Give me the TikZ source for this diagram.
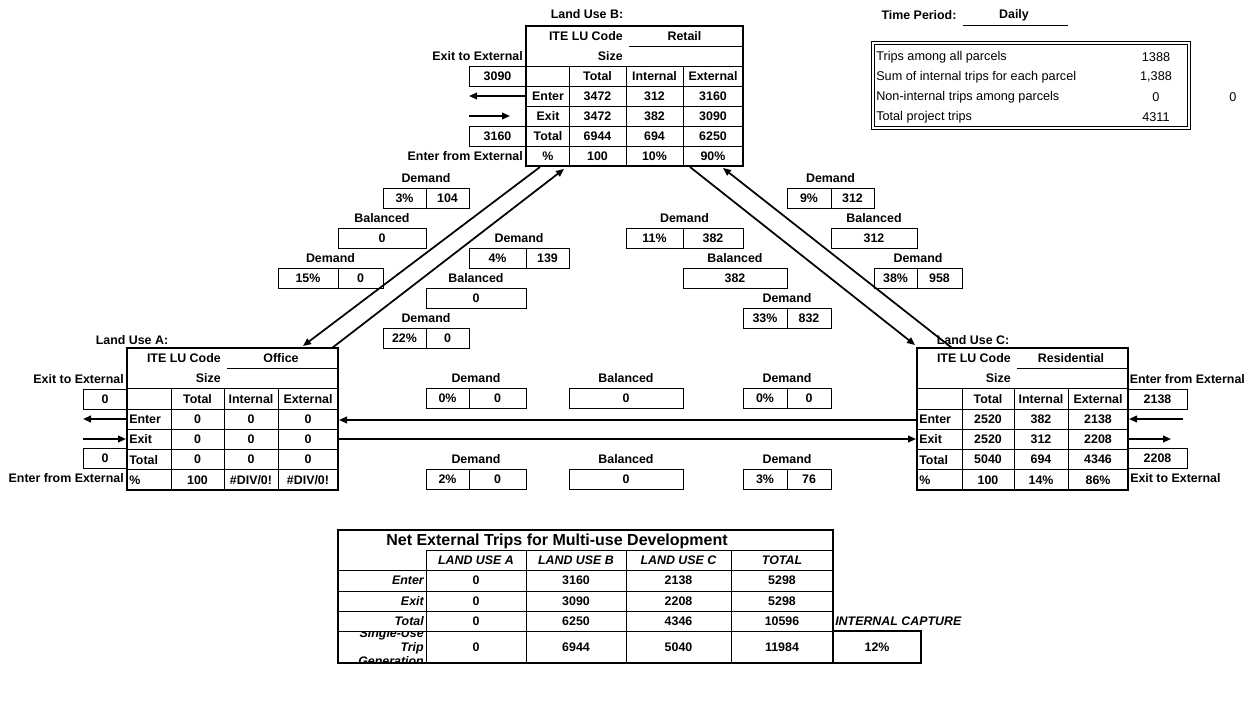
\documentclass[tikz,border=0pt]{standalone}
\usepackage{fontspec}
\setmainfont{Liberation Sans}
\usetikzlibrary{arrows.meta,positioning}

\tikzset{
  txt/.style={inner sep=0pt, font=\fontsize{9.3}{11}\selectfont\bfseries},
  note/.style={inner sep=0pt, font=\fontsize{9.5}{11}\selectfont},
  ital/.style={inner sep=0pt, font=\fontsize{9.3}{10.5}\selectfont\bfseries\itshape},
  rule/.style={line width=0.6pt},
  thickbox/.style={line width=1.5pt},
  box/.style={txt, draw, line width=0.6pt, minimum height=15pt},
  flow/.style={line width=1.3pt, -{Triangle[length=6pt,width=5pt]}},
}

\newcommand{\landuse}[5]{%
  \foreach \xa/\xb/\xc/\xd/\xe/\ya/\h in {#2} {
    \coordinate (#1nw) at (\xa,\ya);
    \coordinate (#1se) at (\xe,\ya+7*\h);
    \foreach \r in {2,...,6} \draw[rule] (\xa,\ya+\r*\h) -- (\xe,\ya+\r*\h);
    \foreach \c in {\xb,\xc,\xd} \draw[rule] (\c,\ya+2*\h) -- (\c,\ya+7*\h);
    \draw[rule] (\xc+3,\ya+\h) -- (\xe,\ya+\h);
    \draw[thickbox] (#1nw) rectangle (#1se);
    \node[txt, anchor=east] (#1code) at (\xc-3,\ya+0.5*\h) {ITE LU Code};
    \node[txt] (#1use) at ({(\xc+\xe)/2},\ya+0.5*\h) {#3};
    \node[txt, anchor=east] (#1size) at (\xc-3,\ya+1.5*\h) {Size};
    \node[txt] (#1ht) at ({(\xb+\xc)/2},\ya+2.5*\h) {Total};
    \node[txt] (#1hi) at ({(\xc+\xd)/2},\ya+2.5*\h) {Internal};
    \node[txt] (#1he) at ({(\xd+\xe)/2},\ya+2.5*\h) {External};
    \foreach \lab/\t/\i/\e [count=\k from 3] in {#5} {
      \node[txt, #4] (#1l\k) at (\xa+2,\ya+\k*\h+0.5*\h) {\lab};
      \node[txt] (#1t\k) at ({(\xb+\xc)/2},\ya+\k*\h+0.5*\h) {\t};
      \node[txt] (#1i\k) at ({(\xc+\xd)/2},\ya+\k*\h+0.5*\h) {\i};
      \node[txt] (#1e\k) at ({(\xd+\xe)/2},\ya+\k*\h+0.5*\h) {\e};
    }
  }
}

\newcommand{\demand}[7]{%
  \node[box, minimum width={(#3-#2)*0.75pt}] (#1p) at ({(#2+#3)/2},#5+10) {#6};
  \node[box, minimum width={(#4-#3)*0.75pt}] (#1v) at ({(#3+#4)/2},#5+10) {#7};
  \node[txt] (#1) at ({(#2+#4)/2},#5-10) {Demand};
}

\newcommand{\balanced}[5]{%
  \node[box, minimum width={(#3-#2)*0.75pt}] (#1v) at ({(#2+#3)/2},#4+10) {#5};
  \node[txt] (#1) at ({(#2+#3)/2},#4-10) {Balanced};
}

\begin{document}
\begin{tikzpicture}[x=0.75pt,y=-0.75pt]
\useasboundingbox (0,0) rectangle (1244,700);

\landuse{B}{526/569/626/683/743/26/20}{Retail}{xshift=15pt}{Enter/3472/312/3160, Exit/3472/382/3090, Total/6944/694/6250, \%/100/10\%/90\%}
\landuse{A}{127/171/224/278/338/348/20.3}{Office}{anchor=west}{Enter/0/0/0, Exit/0/0/0, Total/0/0/0, \%/100/{\#DIV/0!}/{\#DIV/0!}}
\landuse{C}{917/962/1014/1068/1128/348/20.3}{Residential}{anchor=west}{Enter/2520/382/2138, Exit/2520/312/2208, Total/5040/694/4346, \%/100/14\%/86\%}

\node[txt] (Bname) at (587,14) {Land Use B:};
\node[txt] (Aname) at (132,340) {Land Use A:};
\node[txt] (Cname) at (973,340) {Land Use C:};

\node[txt, anchor=east] (Bexit) at (523,56) {Exit to External};
\node[box, minimum width=42.75pt] (Bout) at (497.5,76) {3090};
\node[box, minimum width=42.75pt] (Bin) at (497.5,136) {3160};
\node[txt, anchor=east] (Benter) at (523,156) {Enter from External};
\coordinate (Bw4) at (526,96);
\coordinate (Bx4) at (469,96);
\coordinate (Bx5) at (469,116);
\coordinate (Bw5) at (510,116);
\draw[flow] (Bw4) -- (Bx4);
\draw[flow] (Bx5) -- (Bw5);

\node[txt, anchor=east] (Aexit) at (124,379) {Exit to External};
\node[box, minimum width=33pt] (Aout) at (105,399) {0};
\node[box, minimum width=33pt] (Ain) at (105,458) {0};
\node[txt, anchor=east] (Aenter) at (124,478) {Enter from External};
\coordinate (Aw4) at (127,419);
\coordinate (Ax4) at (83,419);
\coordinate (Ax5) at (83,439);
\coordinate (Aw5) at (126,439);
\draw[flow] (Aw4) -- (Ax4);
\draw[flow] (Ax5) -- (Aw5);

\node[txt, anchor=west] (Center) at (1129.5,379) {Enter from External};
\node[box, minimum width=44.25pt] (Cin) at (1157.5,399) {2138};
\node[box, minimum width=44.25pt] (Cout) at (1157.5,458) {2208};
\node[txt, anchor=west] (Cexit) at (1130,478) {Exit to External};
\coordinate (Cx4) at (1183,419);
\coordinate (Ce4) at (1129,419);
\coordinate (Ce5) at (1128,439);
\coordinate (Cx5) at (1171,439);
\draw[flow] (Cx4) -- (Ce4);
\draw[flow] (Ce5) -- (Cx5);

\coordinate (AtoC1) at (917,420);
\coordinate (AtoC2) at (339,420);
\coordinate (AtoC3) at (339,439);
\coordinate (AtoC4) at (916,439);
\draw[flow] (AtoC1) -- (AtoC2);
\draw[flow] (AtoC3) -- (AtoC4);

\coordinate (BA1) at (540,167);
\coordinate (BA2) at (303,346);
\coordinate (BA3) at (332,348);
\coordinate (BA4) at (564,169);
\coordinate (BC1) at (690,167);
\coordinate (BC2) at (915,345);
\coordinate (BC3) at (952,348);
\coordinate (BC4) at (723,168);
\draw[flow] (BA1) -- (BA2);
\draw[flow] (BA3) -- (BA4);
\draw[flow] (BC1) -- (BC2);
\draw[flow] (BC3) -- (BC4);

\demand{d1}{383}{426}{469}{188}{3\%}{104}
\demand{d2}{278}{338}{383}{268}{15\%}{0}
\demand{d3}{469}{526}{569}{248}{4\%}{139}
\demand{d4}{383}{426}{469}{328}{22\%}{0}
\demand{d5}{787}{831}{874}{188}{9\%}{312}
\demand{d6}{626}{683}{743}{228}{11\%}{382}
\demand{d7}{874}{917}{962}{268}{38\%}{958}
\demand{d8}{743}{787}{831}{308}{33\%}{832}
\demand{d9}{426}{469}{526}{388}{0\%}{0}
\demand{d10}{743}{787}{831}{388}{0\%}{0}
\demand{d11}{426}{469}{526}{469}{2\%}{0}
\demand{d12}{743}{787}{831}{469}{3\%}{76}
\balanced{b1}{338}{426}{228}{0}
\balanced{b2}{426}{526}{288}{0}
\balanced{b3}{831}{917}{228}{312}
\balanced{b4}{683}{787}{268}{382}
\balanced{b5}{569}{683}{388}{0}
\balanced{b6}{569}{683}{469}{0}

\node[txt] (period) at (919,15) {Time Period:};
\node[txt] (daily) at (1014,15) {Daily};
\draw[rule] (963,25) -- (1068,25);
\draw[rule, double, double distance=1.2pt] (873,43) rectangle (1189,128);
\foreach \lab/\v [count=\k] in {Trips among all parcels/1388, Sum of internal trips for each parcel/{1,388}, Non-internal trips among parcels/0, Total project trips/4311} {
  \node[note, anchor=west] (sum\k) at (876,37+20*\k) {\lab};
  \node[note] (val\k) at (1156,37+20*\k) {\v};
}
\node[note] (extra) at (1233,97) {0};

\draw[thickbox] (338,530) rectangle (833,663);
\draw[rule] (426,550) -- (833,550);
\foreach \y in {570,591,611,631} \draw[rule] (338,\y) -- (833,\y);
\foreach \x in {426,526,626,731} \draw[rule] (\x,550) -- (\x,663);
\draw[thickbox] (833,631) rectangle (921,663);
\node[txt, font=\fontsize{12}{14}\selectfont\bfseries] (net) at (557,541) {Net External Trips for Multi-use Development};
\foreach \h/\x in {LAND USE A/476, LAND USE B/576, LAND USE C/678.5, TOTAL/782} \node[ital] at (\x,560) {\h};
\foreach \r/\y/\a/\b/\c/\d in {Enter/580.5/0/3160/2138/5298, Exit/601/0/3090/2208/5298, Total/621/0/6250/4346/10596, {}/647/0/6944/5040/11984} {
  \node[ital, anchor=east] (r\y) at (424,\y) {\r};
  \foreach \v/\x in {\a/476, \b/576, \c/678.5, \d/782} \node[txt] at (\x,\y) {\v};
}
\begin{scope}
\clip (338,631) rectangle (426,663);
\node[ital, align=right, anchor=east] (single) at (424,647) {Single-Use\\Trip\\Generation};
\end{scope}
\node[ital, anchor=west] (capture) at (835,621) {INTERNAL CAPTURE};
\node[txt] (capval) at (877,647) {12\%};
\end{tikzpicture}
\end{document}
